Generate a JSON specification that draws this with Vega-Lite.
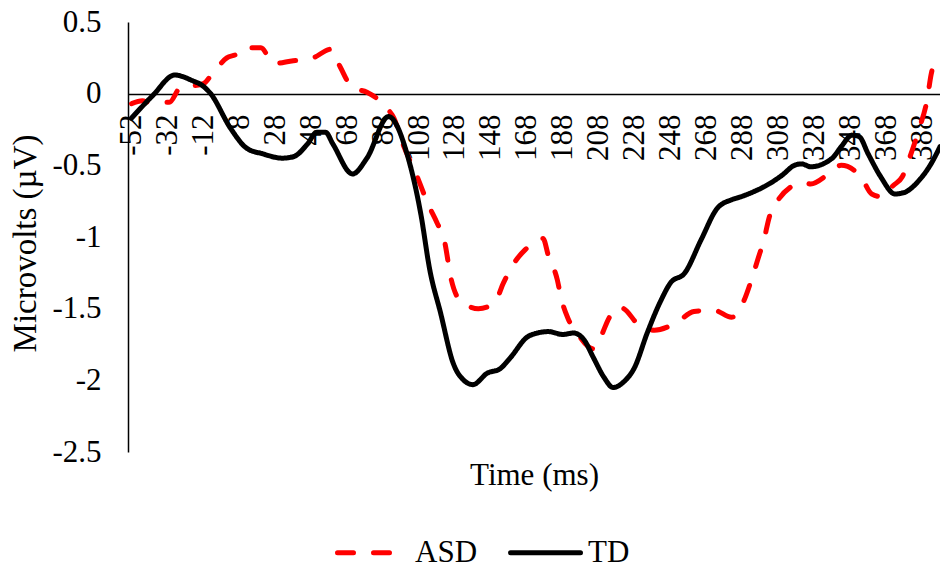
{
  "$schema": "https://vega.github.io/schema/vega-lite/v6.json",
  "autosize": "none",
  "padding": {"left": 128, "top": 22, "right": 0, "bottom": 117},
  "width": 812,
  "height": 430,
  "background": "white",
  "config": {
    "view": {"stroke": null},
    "font": "Liberation Serif"
  },
  "data": {
    "values": [
      {"t": -52, "v": -0.07, "g": "ASD"},
      {"t": -46, "v": -0.05, "g": "ASD"},
      {"t": -42, "v": -0.06, "g": "ASD"},
      {"t": -31, "v": -0.06, "g": "ASD"},
      {"t": -25, "v": 0.04, "g": "ASD"},
      {"t": -12, "v": 0.07, "g": "ASD"},
      {"t": -7, "v": 0.14, "g": "ASD"},
      {"t": 1, "v": 0.25, "g": "ASD"},
      {"t": 7, "v": 0.28, "g": "ASD"},
      {"t": 10, "v": 0.32, "g": "ASD"},
      {"t": 20, "v": 0.32, "g": "ASD"},
      {"t": 27, "v": 0.21, "g": "ASD"},
      {"t": 38, "v": 0.23, "g": "ASD"},
      {"t": 46, "v": 0.24, "g": "ASD"},
      {"t": 49, "v": 0.25, "g": "ASD"},
      {"t": 59, "v": 0.31, "g": "ASD"},
      {"t": 64, "v": 0.19, "g": "ASD"},
      {"t": 71, "v": 0.04, "g": "ASD"},
      {"t": 79, "v": 0.01, "g": "ASD"},
      {"t": 90, "v": -0.10, "g": "ASD"},
      {"t": 94, "v": -0.17, "g": "ASD"},
      {"t": 99, "v": -0.35, "g": "ASD"},
      {"t": 107, "v": -0.58, "g": "ASD"},
      {"t": 113, "v": -0.77, "g": "ASD"},
      {"t": 118, "v": -0.90, "g": "ASD"},
      {"t": 122, "v": -1.02, "g": "ASD"},
      {"t": 126, "v": -1.30, "g": "ASD"},
      {"t": 131, "v": -1.45, "g": "ASD"},
      {"t": 135, "v": -1.48, "g": "ASD"},
      {"t": 141, "v": -1.50, "g": "ASD"},
      {"t": 150, "v": -1.46, "g": "ASD"},
      {"t": 155, "v": -1.32, "g": "ASD"},
      {"t": 161, "v": -1.18, "g": "ASD"},
      {"t": 167, "v": -1.09, "g": "ASD"},
      {"t": 177, "v": -1.01, "g": "ASD"},
      {"t": 180, "v": -1.13, "g": "ASD"},
      {"t": 185, "v": -1.30, "g": "ASD"},
      {"t": 187, "v": -1.42, "g": "ASD"},
      {"t": 191, "v": -1.57, "g": "ASD"},
      {"t": 196, "v": -1.67, "g": "ASD"},
      {"t": 205, "v": -1.78, "g": "ASD"},
      {"t": 209, "v": -1.70, "g": "ASD"},
      {"t": 214, "v": -1.56, "g": "ASD"},
      {"t": 219, "v": -1.49, "g": "ASD"},
      {"t": 222, "v": -1.50, "g": "ASD"},
      {"t": 230, "v": -1.61, "g": "ASD"},
      {"t": 239, "v": -1.65, "g": "ASD"},
      {"t": 251, "v": -1.60, "g": "ASD"},
      {"t": 261, "v": -1.52, "g": "ASD"},
      {"t": 272, "v": -1.51, "g": "ASD"},
      {"t": 282, "v": -1.56, "g": "ASD"},
      {"t": 289, "v": -1.44, "g": "ASD"},
      {"t": 293, "v": -1.30, "g": "ASD"},
      {"t": 297, "v": -1.14, "g": "ASD"},
      {"t": 300, "v": -1.02, "g": "ASD"},
      {"t": 303, "v": -0.86, "g": "ASD"},
      {"t": 307, "v": -0.76, "g": "ASD"},
      {"t": 315, "v": -0.65, "g": "ASD"},
      {"t": 322, "v": -0.62, "g": "ASD"},
      {"t": 326, "v": -0.63, "g": "ASD"},
      {"t": 336, "v": -0.56, "g": "ASD"},
      {"t": 343, "v": -0.50, "g": "ASD"},
      {"t": 354, "v": -0.58, "g": "ASD"},
      {"t": 360, "v": -0.70, "g": "ASD"},
      {"t": 366, "v": -0.72, "g": "ASD"},
      {"t": 372, "v": -0.64, "g": "ASD"},
      {"t": 377, "v": -0.58, "g": "ASD"},
      {"t": 381, "v": -0.45, "g": "ASD"},
      {"t": 386, "v": -0.26, "g": "ASD"},
      {"t": 391, "v": -0.03, "g": "ASD"},
      {"t": 393, "v": 0.13, "g": "ASD"},
      {"t": 397, "v": 0.26, "g": "ASD"},
      {"t": -52, "v": -0.17, "g": "TD"},
      {"t": -40, "v": -0.01, "g": "TD"},
      {"t": -28, "v": 0.13, "g": "TD"},
      {"t": -18, "v": 0.09, "g": "TD"},
      {"t": -13, "v": 0.06, "g": "TD"},
      {"t": -8, "v": 0.0, "g": "TD"},
      {"t": 3, "v": -0.24, "g": "TD"},
      {"t": 12, "v": -0.38, "g": "TD"},
      {"t": 21, "v": -0.42, "g": "TD"},
      {"t": 32, "v": -0.45, "g": "TD"},
      {"t": 38, "v": -0.44, "g": "TD"},
      {"t": 46, "v": -0.35, "g": "TD"},
      {"t": 51, "v": -0.27, "g": "TD"},
      {"t": 56, "v": -0.27, "g": "TD"},
      {"t": 60, "v": -0.35, "g": "TD"},
      {"t": 71, "v": -0.56, "g": "TD"},
      {"t": 79, "v": -0.45, "g": "TD"},
      {"t": 91, "v": -0.16, "g": "TD"},
      {"t": 102, "v": -0.45, "g": "TD"},
      {"t": 109, "v": -0.84, "g": "TD"},
      {"t": 114, "v": -1.23, "g": "TD"},
      {"t": 120, "v": -1.53, "g": "TD"},
      {"t": 127, "v": -1.88, "g": "TD"},
      {"t": 133, "v": -2.00, "g": "TD"},
      {"t": 138, "v": -2.03, "g": "TD"},
      {"t": 146, "v": -1.95, "g": "TD"},
      {"t": 153, "v": -1.92, "g": "TD"},
      {"t": 159, "v": -1.84, "g": "TD"},
      {"t": 168, "v": -1.70, "g": "TD"},
      {"t": 174, "v": -1.67, "g": "TD"},
      {"t": 180, "v": -1.66, "g": "TD"},
      {"t": 188, "v": -1.68, "g": "TD"},
      {"t": 194, "v": -1.67, "g": "TD"},
      {"t": 200, "v": -1.72, "g": "TD"},
      {"t": 205, "v": -1.84, "g": "TD"},
      {"t": 211, "v": -1.98, "g": "TD"},
      {"t": 216, "v": -2.05, "g": "TD"},
      {"t": 222, "v": -2.01, "g": "TD"},
      {"t": 228, "v": -1.91, "g": "TD"},
      {"t": 235, "v": -1.67, "g": "TD"},
      {"t": 242, "v": -1.46, "g": "TD"},
      {"t": 248, "v": -1.32, "g": "TD"},
      {"t": 256, "v": -1.25, "g": "TD"},
      {"t": 265, "v": -1.02, "g": "TD"},
      {"t": 274, "v": -0.80, "g": "TD"},
      {"t": 282, "v": -0.74, "g": "TD"},
      {"t": 287, "v": -0.72, "g": "TD"},
      {"t": 295, "v": -0.68, "g": "TD"},
      {"t": 300, "v": -0.65, "g": "TD"},
      {"t": 310, "v": -0.57, "g": "TD"},
      {"t": 317, "v": -0.50, "g": "TD"},
      {"t": 321, "v": -0.49, "g": "TD"},
      {"t": 326, "v": -0.51, "g": "TD"},
      {"t": 338, "v": -0.45, "g": "TD"},
      {"t": 343, "v": -0.37, "g": "TD"},
      {"t": 349, "v": -0.29, "g": "TD"},
      {"t": 353, "v": -0.30, "g": "TD"},
      {"t": 358, "v": -0.42, "g": "TD"},
      {"t": 365, "v": -0.58, "g": "TD"},
      {"t": 373, "v": -0.70, "g": "TD"},
      {"t": 378, "v": -0.69, "g": "TD"},
      {"t": 386, "v": -0.61, "g": "TD"},
      {"t": 393, "v": -0.49, "g": "TD"},
      {"t": 398, "v": -0.37, "g": "TD"}
    ]
  },
  "mark": {"type": "line", "strokeWidth": 5, "strokeCap": "round", "strokeJoin": "round", "interpolate": "monotone"},
  "encoding": {
    "x": {
      "field": "t",
      "type": "quantitative",
      "scale": {"domain": [-54, 398], "nice": false, "zero": false},
      "axis": {
        "values": [-52, -32, -12, 8, 28, 48, 68, 88, 108, 128, 148, 168, 188, 208, 228, 248, 268, 288, 308, 328, 348, 368, 388],
        "labelExpr": "datum.value + ''",
        "labelAngle": -90,
        "labelFont": "Liberation Serif",
        "labelFontSize": 31,
        "labelColor": "#000000",
        "labelPadding": 20,
        "labelOverlap": false,
        "labelFlush": false,
        "ticks": false,
        "grid": false,
        "domainColor": "#000000",
        "domainWidth": 1.5,
        "offset": -358,
        "title": "Time (ms)",
        "titleFont": "Liberation Serif",
        "titleFontSize": 31,
        "titleFontWeight": "normal",
        "titleColor": "#000000",
        "titleY": 366
      }
    },
    "y": {
      "field": "v",
      "type": "quantitative",
      "scale": {"domain": [-2.5, 0.5], "nice": false, "zero": false},
      "axis": {
        "values": [-2.5, -2, -1.5, -1, -0.5, 0, 0.5],
        "labelExpr": "datum.value + ''",
        "labelFont": "Liberation Serif",
        "labelFontSize": 31,
        "labelColor": "#000000",
        "labelPadding": 27,
        "ticks": false,
        "grid": false,
        "domainColor": "#000000",
        "domainWidth": 1.5,
        "title": "Microvolts (µV)",
        "titleFont": "Liberation Serif",
        "titleFontSize": 33,
        "titleFontWeight": "normal",
        "titleColor": "#000000",
        "titleX": -86,
        "titleY": 221
      }
    },
    "color": {
      "field": "g",
      "type": "nominal",
      "scale": {"domain": ["ASD", "TD"], "range": ["#FF0000", "#000000"]},
      "legend": {
        "title": null,
        "orient": "none",
        "direction": "horizontal",
        "legendX": 207,
        "legendY": 493,
        "symbolType": "stroke",
        "symbolSize": 4900,
        "symbolStrokeWidth": 5,
        "labelFont": "Liberation Serif",
        "labelFontSize": 31,
        "labelColor": "#000000",
        "labelOffset": 5,
        "columnPadding": 22,
        "encode": {"symbols": {"update": {"strokeCap": {"value": "round"}}}}
      }
    },
    "strokeDash": {
      "field": "g",
      "type": "nominal",
      "scale": {"domain": ["ASD", "TD"], "range": [[16, 20], [1, 0]]},
      "legend": null
    }
  }
}
